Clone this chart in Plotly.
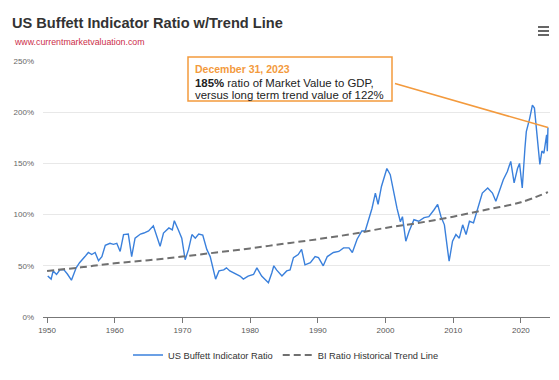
import plotly.graph_objects as go

# ---- data ----
bi_years = [1950.1, 1950.6, 1950.9, 1951.4, 1951.9, 1952.5, 1953.0, 1953.6, 1954.3, 1954.8,
            1955.6, 1956.1, 1956.6, 1957.1, 1957.6, 1958.1, 1958.6, 1959.3, 1959.8, 1960.3,
            1960.8, 1961.3, 1962.0, 1962.5, 1963.0, 1963.8, 1964.3, 1965.0, 1965.7, 1966.2,
            1966.7, 1967.2, 1968.0, 1968.5, 1968.8, 1969.4, 1969.9, 1970.4, 1970.9, 1971.4,
            1971.9, 1972.4, 1973.0, 1973.6, 1974.1, 1974.9, 1975.4, 1976.1, 1976.5, 1977.0,
            1977.7, 1978.5, 1979.0, 1979.7, 1980.5, 1981.0, 1981.7, 1982.7, 1983.2, 1983.5,
            1983.9, 1984.7, 1985.4, 1985.9, 1986.4, 1987.1, 1987.6, 1988.1, 1988.9, 1989.6,
            1990.1, 1990.8, 1991.4, 1992.3, 1993.1, 1993.8, 1994.6, 1995.1, 1995.8, 1996.5,
            1997.0, 1997.5, 1998.0, 1998.5, 1998.9, 1999.4, 1999.7, 2000.2, 2000.7, 2001.2,
            2001.7, 2002.2, 2002.5, 2003.0, 2003.5, 2004.2, 2004.9, 2005.7, 2006.4, 2007.2,
            2007.7, 2008.2, 2008.7, 2009.2, 2009.4, 2009.9, 2010.4, 2010.9, 2011.4, 2011.9,
            2012.4, 2013.0, 2013.6, 2014.3, 2015.1, 2015.8, 2016.3, 2016.8, 2017.4, 2018.0,
            2018.5, 2019.0, 2019.5, 2019.8, 2020.2, 2020.6, 2020.8, 2021.3, 2021.7, 2022.0,
            2022.2, 2022.5, 2022.8, 2023.1, 2023.4, 2023.8, 2023.9, 2024.0]
bi_ratio = [40, 37, 45, 41.5, 46, 46, 42, 36, 48, 53,
            59, 63, 61, 63, 55, 59, 70, 72, 71, 72,
            64, 80.5, 81, 59, 77, 81, 82, 84, 89, 79,
            69, 82, 87, 85, 94, 85, 77, 56, 66, 80.5,
            77, 81, 80, 66, 59, 37, 45, 46, 48, 45,
            43, 40, 37, 40, 41.5, 48, 40, 33.5, 43, 50,
            46, 40, 45, 46, 58, 61, 66, 51, 53, 59,
            58, 50, 59, 63, 64, 67.5, 67.5, 63, 76, 84,
            84, 95, 106, 121, 110, 127.5, 134, 145, 139, 121,
            106, 93, 98, 74, 84, 95, 93.5, 97, 98, 105,
            110, 98, 90, 64, 54.5, 74, 80.5, 77, 90, 80.5,
            93.5, 92, 106, 121, 126, 121, 113, 123, 134, 142,
            152, 131, 145, 150, 126, 165, 181, 194, 207, 204,
            188, 165, 149, 162, 160, 178, 162, 185]

trend_years = [1950, 1955, 1960, 1965, 1970, 1975, 1980, 1985, 1990, 1995,
               2000, 2005, 2010, 2015, 2020, 2024]
trend_ratio = [45, 48.5, 52.5, 55.5, 59, 63, 67, 71.5, 76, 81,
               87, 92, 98, 105, 112, 122]

y_ticks = [0, 50, 100, 150, 200, 250]
y_tick_labels = ["0%", "50%", "100%", "150%", "200%", "250%"]
x_ticks = [1950, 1960, 1970, 1980, 1990, 2000, 2010, 2020]
x_tick_labels = ["1950", "1960", "1970", "1980", "1990", "2000", "2010", "2020"]

FONT = "Liberation Sans, Arial, sans-serif"
ORANGE = "#f39a3d"

# plot-area geometry in pixels (used to place the non-data decorations)
L, R, T, B = 43, 9, 61, 63
W, H = 559, 380
PW, PH = W - L - R, H - T - B


def px(x):
    return (x - L) / PW


def py(y):
    return (H - B - y) / PH


fig = go.Figure()
fig.add_trace(go.Scatter(
    x=bi_years, y=bi_ratio, mode="lines", name="US Buffett Indicator Ratio",
    line=dict(color="#3a80dc", width=1.4),
))
fig.add_trace(go.Scatter(
    x=trend_years, y=trend_ratio, mode="lines", name="BI Ratio Historical Trend Line",
    line=dict(color="#707070", width=2, dash="7px,4px", shape="spline"),
))

annotations = [
    dict(xref="paper", yref="paper", x=px(12), y=py(41.5),
         xanchor="left", yanchor="middle", showarrow=False,
         text="www.currentmarketvaluation.com",
         font=dict(size=8.8, color="#cc2e4a", family=FONT)),
    # connector from the callout box to the last data point
    dict(x=bi_years[-1], y=bi_ratio[-1], xref="x", yref="y", text=" ",
         showarrow=True, arrowhead=0, arrowwidth=1.5, arrowcolor=ORANGE,
         axref="pixel", ayref="pixel", ax=-156, ay=-45),
    dict(xref="paper", yref="paper", x=px(193), y=py(69), xanchor="left", yanchor="middle",
         showarrow=False, text="<b>December 31, 2023</b>",
         font=dict(size=10.5, color=ORANGE, family=FONT)),
    dict(xref="paper", yref="paper", x=px(193), y=py(82.5), xanchor="left", yanchor="middle",
         showarrow=False, text="<b>185%</b> ratio of Market Value to GDP,",
         font=dict(size=11.4, color="#222222", family=FONT)),
    dict(xref="paper", yref="paper", x=px(193), y=py(95), xanchor="left", yanchor="middle",
         showarrow=False, text="versus long term trend value of 122%",
         font=dict(size=11.4, color="#222222", family=FONT)),
]

shapes = [
    dict(type="rect", xref="paper", yref="paper", x0=px(188), x1=px(392),
         y0=py(101), y1=py(57), line=dict(color=ORANGE, width=1.5), fillcolor="white",
         layer="above"),
]
shapes += [
    dict(type="line", xref="paper", yref="paper", x0=px(538), x1=px(549),
         y0=py(y), y1=py(y), line=dict(color="#666666", width=2))
    for y in (27, 31, 35)
]

fig.update_layout(
    width=W, height=H,
    margin=dict(l=L, r=R, t=T, b=B, autoexpand=False),
    paper_bgcolor="white", plot_bgcolor="white",
    font=dict(family=FONT, color="#333333"),
    title=dict(
        text="<b>US Buffett Indicator Ratio w/Trend Line</b>",
        font=dict(size=14.6, color="#333333", family=FONT),
        xref="container", yref="container", x=12 / W, y=1 - 23 / H,
        xanchor="left", yanchor="middle",
    ),
    showlegend=True,
    legend=dict(
        orientation="h", x=px(286), xanchor="center", y=py(355), yanchor="middle",
        font=dict(size=9.3, color="#333333"), itemwidth=30,
        bgcolor="rgba(0,0,0,0)",
    ),
    xaxis=dict(
        range=[1949.4, 2024.3], tickvals=x_ticks, ticktext=x_tick_labels,
        showgrid=False, showline=True, linecolor="#777777", linewidth=1,
        ticks="outside", ticklen=5, tickcolor="#777777",
        tickfont=dict(size=8, color="#555555"), zeroline=False, automargin=False,
    ),
    yaxis=dict(
        range=[0, 250], tickvals=y_ticks, ticktext=y_tick_labels,
        showgrid=True, gridcolor="#e8e8e8", gridwidth=1, zeroline=False,
        showline=False, tickfont=dict(size=8, color="#666666"),
        ticklabelstandoff=8, automargin=False,
    ),
    annotations=annotations,
    shapes=shapes,
)

fig.write_html(
    "out.html",
    config={"displayModeBar": False},
    post_script="document.body.style.margin='0';document.body.style.overflow='hidden';",
)
